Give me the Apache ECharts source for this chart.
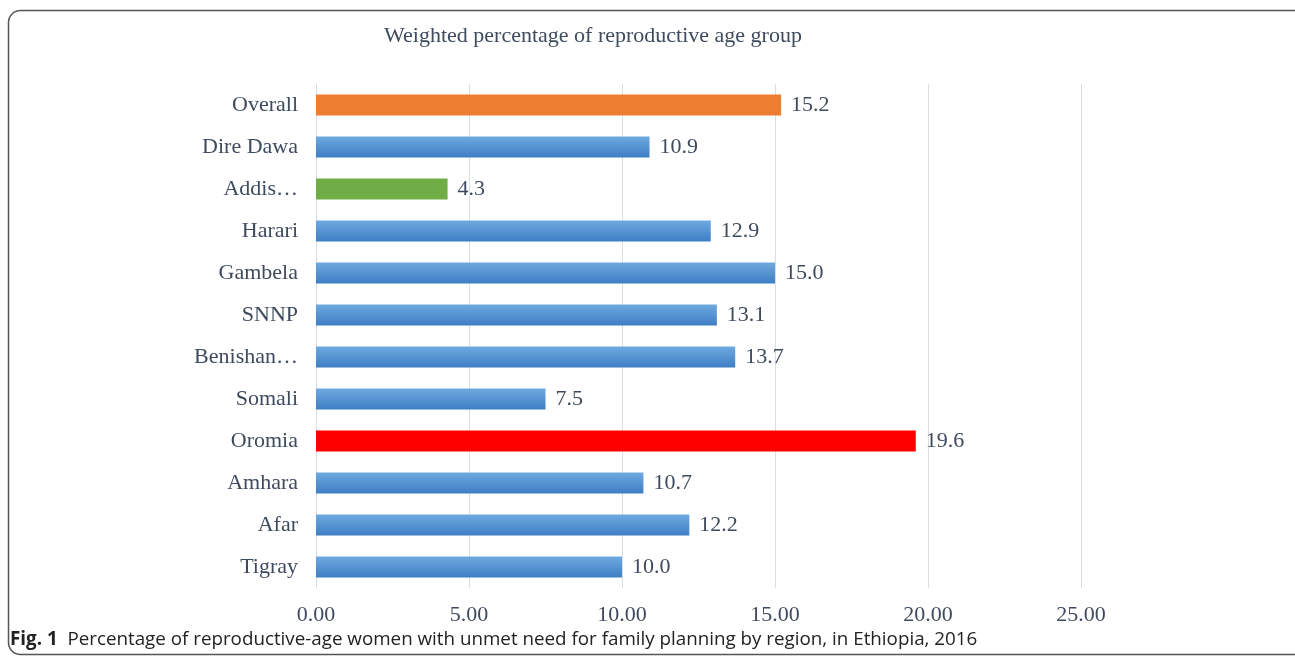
<!DOCTYPE html>
<html>
<head>
<meta charset="utf-8">
<script src="https://cdn.jsdelivr.net/npm/echarts@6/dist/echarts.min.js"></script>
<style>
html,body{margin:0;padding:0;background:#fff;}
#chart{width:1295px;height:661px;}
</style>
</head>
<body>
<div id="chart"></div>
<script>
var categories = ['Tigray','Afar','Amhara','Oromia','Somali','Benishan…','SNNP','Gambela','Harari','Addis…','Dire Dawa','Overall'];
var values = [10.0, 12.2, 10.7, 19.6, 7.5, 13.7, 13.1, 15.0, 12.9, 4.3, 10.9, 15.2];
var xTicks = [0, 5, 10, 15, 20, 25];
var titleText = 'Weighted percentage of reproductive age group';
var captionBold = 'Fig. 1';
var captionText = 'Percentage of reproductive-age women with unmet need for family planning by region, in Ethiopia, 2016';

var highlight = { 'Overall': '#ed7d31', 'Addis…': '#70ad47', 'Oromia': '#ff0000' };
var blueGrad = new echarts.graphic.LinearGradient(0, 0, 0, 1, [
  { offset: 0, color: '#6fa9e0' },
  { offset: 1, color: '#3d7ec4' }
]);
var txt = '#3e4b5e';
var serif = '"Liberation Serif", "DejaVu Serif", serif';

var chart = echarts.init(document.getElementById('chart'));
chart.setOption({
  animation: false,
  backgroundColor: '#fff',
  title: {
    text: titleText, left: 588, top: 20, textAlign: 'center',
    textStyle: { fontFamily: serif, fontSize: 22, fontWeight: 'normal', color: txt }
  },
  grid: { left: 316, right: 214, top: 84, height: 504, containLabel: false },
  xAxis: {
    type: 'value', min: xTicks[0], max: xTicks[xTicks.length - 1], interval: 5,
    axisLine: { show: false }, axisTick: { show: false },
    splitLine: { show: true, lineStyle: { color: '#dadde3', width: 1 } },
    axisLabel: { margin: 16, fontFamily: serif, fontSize: 22, color: txt,
      formatter: function (v) { return v.toFixed(2); } }
  },
  yAxis: {
    type: 'category', data: categories,
    axisLine: { show: true, lineStyle: { color: '#dadde3', width: 1 } },
    axisTick: { show: false },
    axisLabel: { margin: 18, fontFamily: serif, fontSize: 22, color: txt }
  },
  series: [{
    type: 'bar', barWidth: '50%',
    data: values.map(function (v, i) {
      var c = highlight[categories[i]];
      return { value: v, itemStyle: { color: c ? c : blueGrad } };
    }),
    label: {
      show: true, position: 'right', distance: 10,
      fontFamily: serif, fontSize: 22, color: txt,
      formatter: function (p) { return p.value.toFixed(1); }
    }
  }],
  graphic: [
    { type: 'rect', shape: { x: 8.5, y: 10.5, width: 1300, height: 644, r: 12 },
      style: { fill: null, stroke: '#555', lineWidth: 1.5 }, silent: true },
    { type: 'text', left: 10, top: 630,
      style: {
        text: '{b|' + captionBold + '}  ' + captionText,
        rich: { b: { fontWeight: 'bold', fontSize: 18.8, fontFamily: '"Open Sans", sans-serif', fill: '#222' } },
        fontSize: 18.8, fontFamily: '"Open Sans", sans-serif', fill: '#222'
      } }
  ]
});
</script>
</body>
</html>
